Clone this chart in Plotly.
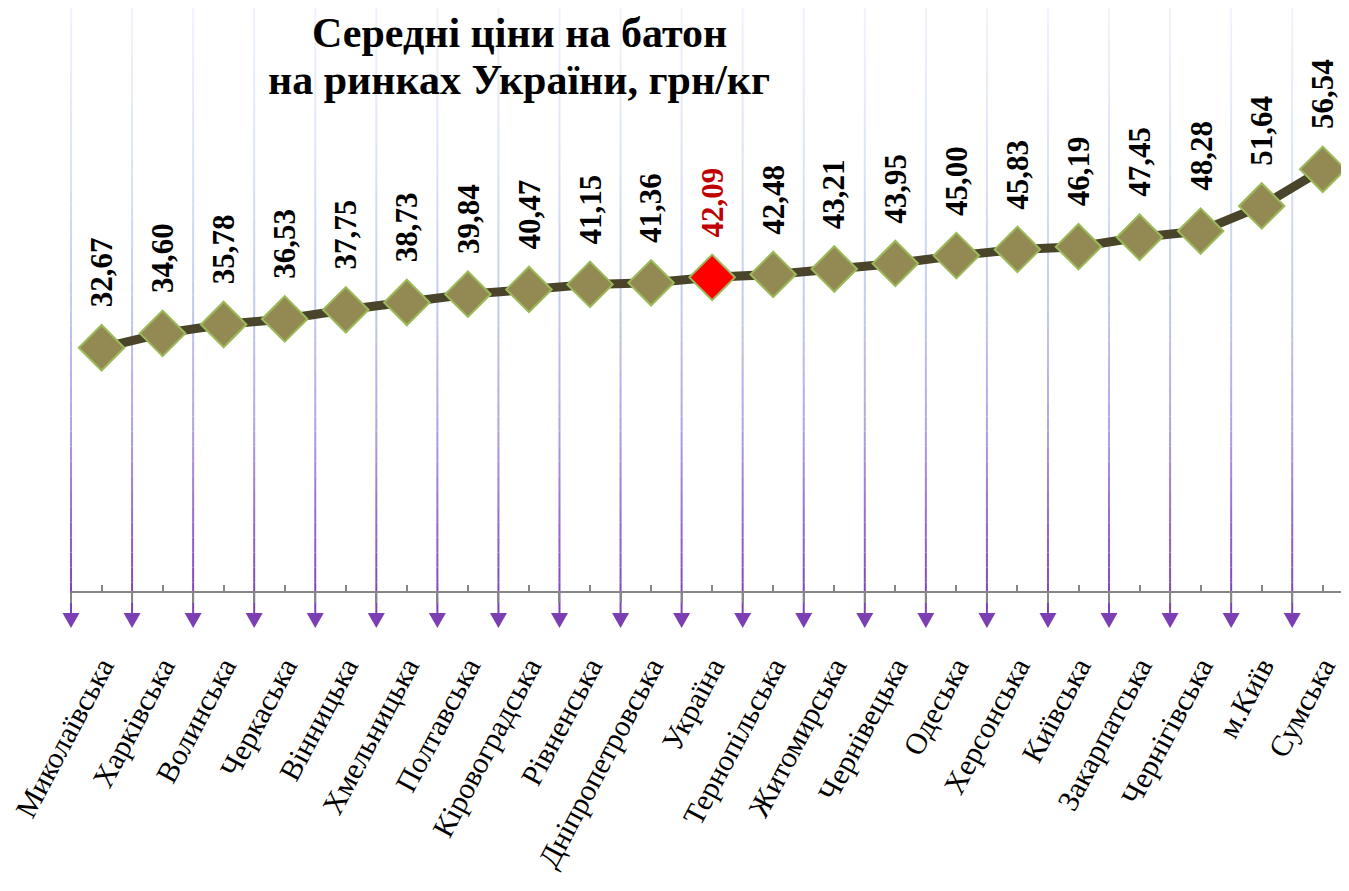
import plotly.graph_objects as go

# ---------------- data ----------------
regions = ["Миколаївська", "Харківська", "Волинська", "Черкаська", "Вінницька",
           "Хмельницька", "Полтавська", "Кіровоградська", "Рівненська",
           "Дніпропетровська", "Україна", "Тернопільська", "Житомирська",
           "Чернівецька", "Одеська", "Херсонська", "Київська", "Закарпатська",
           "Чернігівська", "м.Київ", "Сумська"]
prices = [32.67, 34.60, 35.78, 36.53, 37.75, 38.73, 39.84, 40.47, 41.15, 41.36,
          42.09, 42.48, 43.21, 43.95, 45.00, 45.83, 46.19, 47.45, 48.28, 51.64, 56.54]
highlight = "Україна"
title_lines = ["Середні ціни на батон", "на ринках України, грн/кг"]

# ---------------- layout constants ----------------
# the page body adds an 8 px offset, so the figure is 8 px smaller than the window
W, H = 1341, 883
M_L, M_R, M_T, M_B = 42, 0, 0, 259
y_min, y_max = -5.35, 78.12
n = len(regions)
cat_px = 61.06
plot_w = W - M_L - M_R
plot_h = H - M_T - M_B
x_max = 20.43
x_min = x_max - plot_w / cat_px
px_per_x = cat_px
px_per_y = plot_h / (y_max - y_min)
axis_pos = (0 - y_min) / (y_max - y_min)

serif = "Liberation Serif"
marker_colors = ["#FF0000" if r == highlight else "#938953" for r in regions]
label_colors = ["#C00000" if r == highlight else "#000000" for r in regions]
labels = [f"{v:.2f}".replace(".", ",") for v in prices]

fig = go.Figure()

# ---------------- gradient grid lines with arrow heads ----------------
stops = [(0.0, (240, 244, 252)), (0.25, (220, 227, 247)), (0.49, (194, 202, 238)),
         (0.685, (178, 164, 228)), (0.85, (148, 106, 205)), (1.0, (122, 62, 178))]


def grad(t):
    for (t0, c0), (t1, c1) in zip(stops[:-1], stops[1:]):
        if t <= t1:
            f = (t - t0) / (t1 - t0) if t1 > t0 else 0
            return "rgb(%d,%d,%d)" % tuple(round(a + (b - a) * f) for a, b in zip(c0, c1))
    return "rgb(%d,%d,%d)" % stops[-1][1]


line_end = -21 / px_per_y          # grid line stops ~21 px below the axis
arrow_tip = -36 / px_per_y         # arrow tip ~36 px below the axis
arrow_half = 8.5 / px_per_x
segs = 40
shapes = []
for i in range(n + 1):
    b = i - 0.5
    for k in range(segs):
        ya = y_max - (y_max - line_end) * k / segs
        yb = y_max - (y_max - line_end) * (k + 1) / segs
        shapes.append(dict(type="line", xref="x2", yref="y", x0=b, x1=b, y0=ya, y1=yb,
                           line=dict(color=grad((k + 0.5) / segs), width=2), layer="below"))
    shapes.append(dict(type="path", xref="x2", yref="y",
                       path=f"M {b - arrow_half},{line_end} L {b + arrow_half},{line_end} L {b},{arrow_tip} Z",
                       fillcolor="#7B3FB3", line=dict(width=0), layer="below"))

# horizontal category axis line starting at the first category boundary
shapes.append(dict(type="line", xref="x2", yref="y", x0=-0.5, x1=x_max, y0=0, y1=0,
                   line=dict(color="#868686", width=2), layer="below"))

# ---------------- series ----------------
fig.add_trace(go.Scatter(
    x=regions, y=prices, mode="lines+markers",
    line=dict(color="#4A452A", width=9),
    marker=dict(symbol="diamond", size=35, color=marker_colors,
                line=dict(color="#9BBB59", width=2)),
    hoverinfo="x+y", showlegend=False))

annotations = []
for r, v, t, c in zip(regions, prices, labels, label_colors):
    annotations.append(dict(x=r, y=v, xref="x", yref="y", text=f"<b>{t}</b>", textangle=-90,
                            showarrow=False, xanchor="center", yanchor="bottom", yshift=38,
                            font=dict(family=serif, size=31, color=c)))

title_x = (511 - M_L) / plot_w
for line_txt, shift in zip(title_lines, [-25, -72]):
    annotations.append(dict(x=title_x, y=1, xref="paper", yref="paper", text=f"<b>{line_txt}</b>",
                            showarrow=False, xanchor="center", yanchor="middle", yshift=shift,
                            font=dict(family=serif, size=42, color="black")))

fig.update_layout(
    width=W, height=H,
    margin=dict(l=M_L, r=M_R, t=M_T, b=M_B, pad=0, autoexpand=False),
    paper_bgcolor="white", plot_bgcolor="white",
    xaxis=dict(type="category", range=[x_min, x_max], anchor="free", position=axis_pos,
               automargin=False, showline=False,
               ticks="inside", ticklen=7, tickwidth=2, tickcolor="#868686",
               tickangle=-62, ticklabelstandoff=50,
               tickfont=dict(family=serif, size=30, color="black"),
               showgrid=False, zeroline=False, fixedrange=True),
    xaxis2=dict(overlaying="x", range=[x_min, x_max], anchor="free", position=axis_pos,
                automargin=False,
                tickmode="array", tickvals=[i - 0.5 for i in range(n + 1)],
                ticks="outside", ticklen=10, tickwidth=2, tickcolor="#868686",
                showticklabels=False, showgrid=False, zeroline=False, showline=False,
                fixedrange=True),
    yaxis=dict(range=[y_min, y_max], showgrid=False, zeroline=False, showticklabels=False,
               showline=False, ticks="", fixedrange=True, automargin=False),
    shapes=shapes, annotations=annotations,
    showlegend=False,
)

fig.write_html("out.html")
